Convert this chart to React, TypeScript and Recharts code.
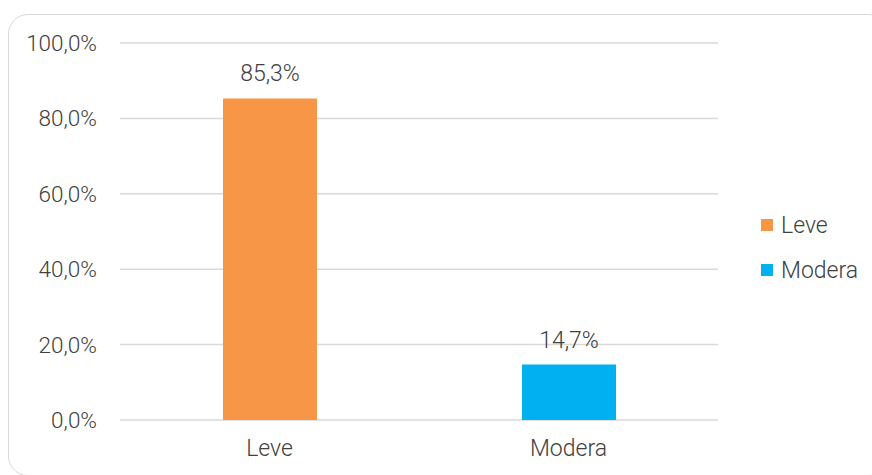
import React from 'react';
import { BarChart, Bar, Cell, XAxis, YAxis, CartesianGrid, Legend, LabelList } from 'recharts';

const CATEGORIES = ['Leve', 'Modera'];
const VALUES = [85.3, 14.7];
const COLORS = ['#F79646', '#00B0F0'];
const Y_TICKS = [0, 20, 40, 60, 80, 100];

const FONT = 'Roboto, "Noto Sans", sans-serif';
const TEXT_COLOR = '#404040';

const chartData = CATEGORIES.map((name, i) => ({ name, value: VALUES[i] }));

// Excel style: comma as decimal separator
const pct = (v: number) => `${Number(v).toFixed(1).replace('.', ',')}%`;

const LegendContent = () => (
  <div style={{ paddingLeft: 43, fontFamily: FONT, fontWeight: 300, fontSize: 23, color: TEXT_COLOR }}>
    {CATEGORIES.map((name, i) => (
      <div key={name} style={{ display: 'flex', alignItems: 'center', height: 26, marginTop: i ? 19 : 0 }}>
        <span style={{ width: 12, height: 12, background: COLORS[i], marginRight: 8, display: 'inline-block' }} />
        <span>{name}</span>
      </div>
    ))}
  </div>
);

const App = () => {
  const tickStyle = { fontFamily: FONT, fontWeight: 300, fontSize: 23, fill: TEXT_COLOR };
  return (
    <div style={{ position: 'absolute', left: 0, top: 0, width: 872, height: 475, overflow: 'hidden', background: '#fff' }}>
      {/* rounded chart frame, runs off the right and bottom edge */}
      <div
        style={{
          position: 'absolute',
          left: 8,
          top: 14,
          width: 880,
          height: 462,
          border: '1.5px solid #d9d9d9',
          borderRadius: 20,
          boxSizing: 'border-box',
        }}
      />
      <BarChart width={872} height={475} data={chartData} margin={{ top: 43, right: 0, bottom: 15, left: 0 }}>
        <CartesianGrid vertical={false} stroke="#d9d9d9" strokeWidth={1.5} />
        <XAxis
          dataKey="name"
          axisLine={false}
          tickLine={false}
          tickSize={0}
          tickMargin={20}
          height={40}
          tick={tickStyle}
        />
        <YAxis
          domain={[0, 100]}
          ticks={Y_TICKS}
          tickFormatter={pct}
          axisLine={false}
          tickLine={false}
          tickSize={0}
          tickMargin={23}
          width={120}
          tick={{ ...tickStyle, fontSize: 22.5 }}
        />
        <Legend
          layout="vertical"
          align="right"
          verticalAlign="middle"
          content={<LegendContent />}
          wrapperStyle={{ top: 212, right: 0, width: 154 }}
        />
        <Bar dataKey="value" barSize={94} isAnimationActive={false}>
          {chartData.map((_, i) => (
            <Cell key={`cell-${i}`} fill={COLORS[i]} />
          ))}
          <LabelList
            dataKey="value"
            position="top"
            offset={17}
            formatter={(v: number) => pct(v)}
            style={{ fontFamily: FONT, fontWeight: 300, fontSize: 23, fill: TEXT_COLOR }}
          />
        </Bar>
      </BarChart>
    </div>
  );
};

export default App;
